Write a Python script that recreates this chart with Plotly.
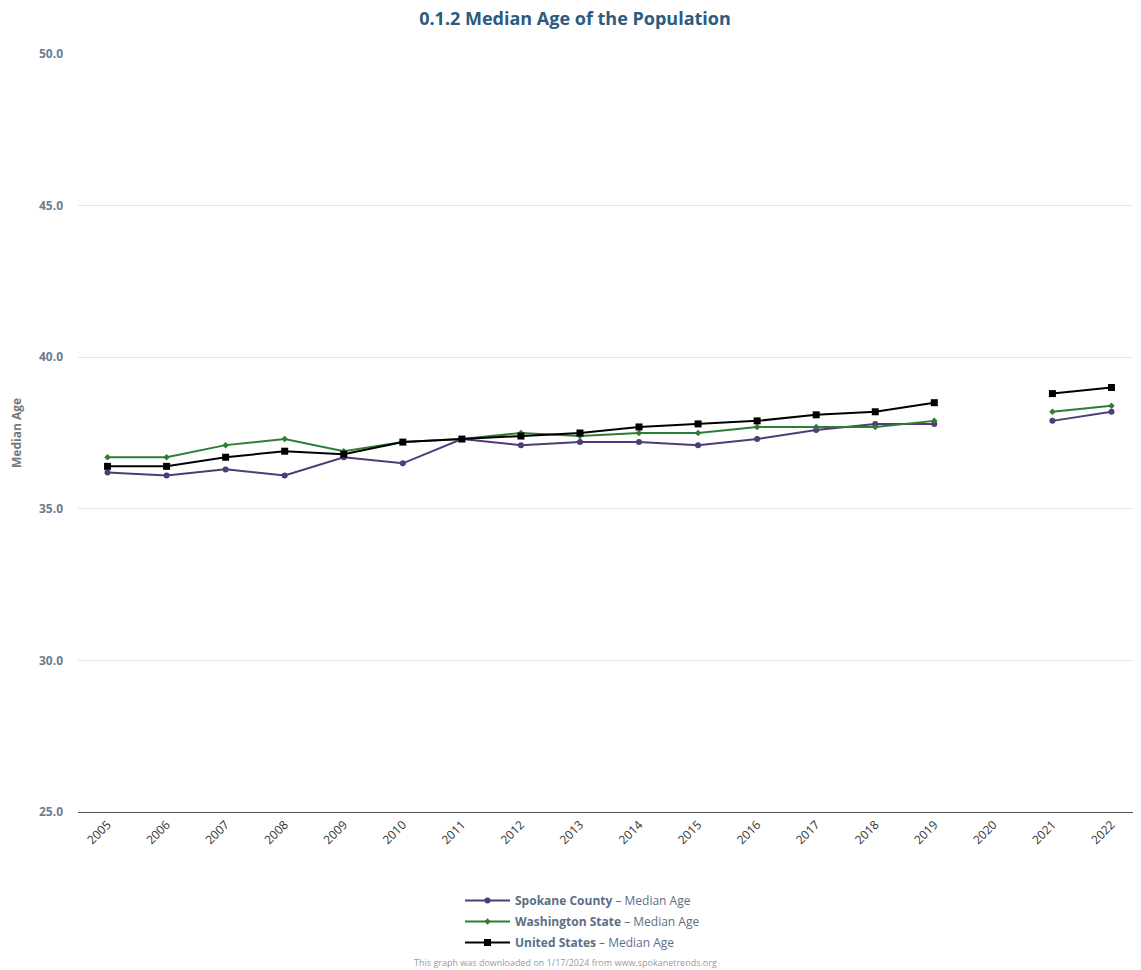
import plotly.graph_objects as go

years = [str(y) for y in range(2005, 2023)]
spokane = [36.2, 36.1, 36.3, 36.1, 36.7, 36.5, 37.3, 37.1, 37.2, 37.2, 37.1, 37.3, 37.6, 37.8, 37.8, None, 37.9, 38.2]
washington = [36.7, 36.7, 37.1, 37.3, 36.9, 37.2, 37.3, 37.5, 37.4, 37.5, 37.5, 37.7, 37.7, 37.7, 37.9, None, 38.2, 38.4]
united_states = [36.4, 36.4, 36.7, 36.9, 36.8, 37.2, 37.3, 37.4, 37.5, 37.7, 37.8, 37.9, 38.1, 38.2, 38.5, None, 38.8, 39.0]
y_ticks = [25, 30, 35, 40, 45, 50]

FONT = "Open Sans, Noto Sans, sans-serif"

series = [
    ("Spokane County", spokane, "#4f3b78", "circle", 6),
    ("Washington State", washington, "#2f7d34", "diamond", 5),
    ("United States", united_states, "#000000", "square", 7),
]

fig = go.Figure()
for name, values, color, symbol, size in series:
    fig.add_trace(
        go.Scatter(
            x=years,
            y=values,
            name=f"<b>{name}</b> – Median Age",
            legendgroup=name,
            mode="lines+markers",
            line=dict(color=color, width=2),
            marker=dict(symbol=symbol, size=size, color=color),
            connectgaps=False,
        )
    )

# the page body has an 8px margin, so the figure is 8px smaller and offset
W, H = 1133, 962
fig.update_layout(
    width=W,
    height=H,
    autosize=False,
    paper_bgcolor="white",
    plot_bgcolor="white",
    margin=dict(l=70, r=0, t=46, b=158, autoexpand=False),
    font=dict(family=FONT),
    title=dict(
        text="<b>0.1.2 Median Age of the Population</b>",
        x=(575 - 8) / W,
        xref="container",
        xanchor="center",
        y=1 - 11 / H,
        yref="container",
        yanchor="middle",
        font=dict(size=18, color="#2c5a80", family=FONT),
    ),
    xaxis=dict(
        type="category",
        range=[-0.5, 17.5],
        tickangle=-45,
        tickfont=dict(size=12, color="#333333"),
        showgrid=False,
        showline=True,
        linecolor="#555555",
        linewidth=1,
        ticks="",
        automargin=False,
    ),
    yaxis=dict(
        range=[25, 50],
        tickvals=y_ticks,
        tickformat=".1f",
        tickfont=dict(size=12, color="#6b7d93", weight="bold"),
        gridcolor="#e6e6e6",
        zeroline=False,
        ticklabelstandoff=14,
        automargin=False,
        title=dict(text="<b>Median Age</b>", font=dict(size=12, color="#777777"), standoff=17),
    ),
    legend=dict(
        x=(460 - 78) / 1063,
        y=-(886 - 812) / 758,
        xanchor="left",
        yanchor="top",
        font=dict(size=12, color="#5b6e86"),
        bgcolor="rgba(0,0,0,0)",
        itemwidth=45,
        tracegroupgap=2,
    ),
    showlegend=True,
)

fig.add_annotation(
    text="This graph was downloaded on 1/17/2024 from www.spokanetrends.org",
    xref="paper",
    yref="paper",
    x=(565 - 78) / 1063,
    y=-(962 - 812) / 758,
    xanchor="center",
    yanchor="middle",
    showarrow=False,
    font=dict(size=9, color="#999999"),
)

fig.write_html("out.html")
